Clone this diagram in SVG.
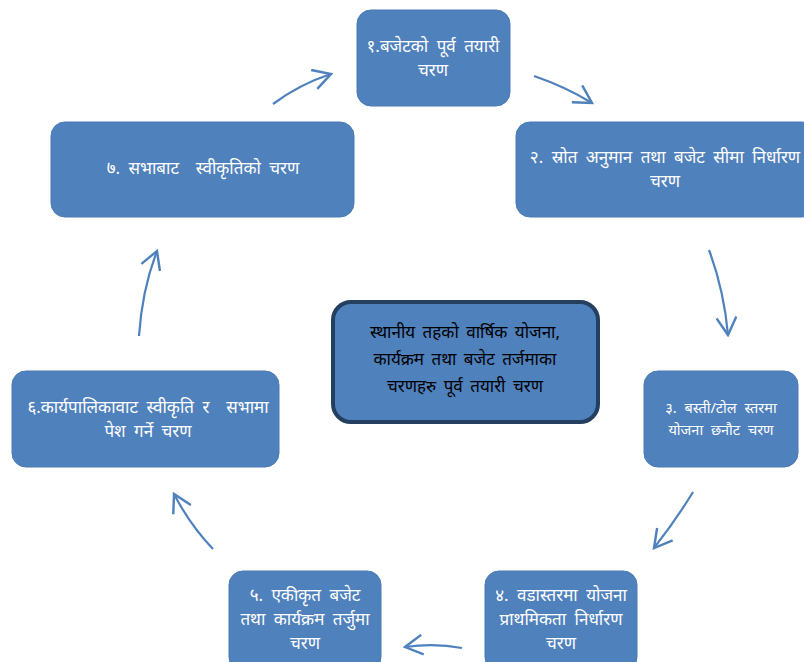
<svg xmlns="http://www.w3.org/2000/svg" width="804" height="662" viewBox="0 0 804 662">
<style>
.box{fill:#4F81BD;stroke:#4A7AB5;stroke-width:1}
.t{font-family:"Noto Sans","Noto Sans CJK SC",sans-serif;font-size:17px;word-spacing:4px;fill:#FFFFFF;text-anchor:middle}
.s{font-size:14.5px;word-spacing:4px}
.c{font-family:"Noto Sans",sans-serif;font-size:17px;word-spacing:3px;fill:#000000;text-anchor:middle}
.arr{fill:none;stroke:#4F81BD;stroke-width:2.2}
</style>
<defs>
<marker id="ah" markerUnits="userSpaceOnUse" markerWidth="22" markerHeight="22" viewBox="0 0 20 20" refX="18" refY="10" orient="auto">
<path d="M2,1 L18,10 L2,19" fill="none" stroke="#4F81BD" stroke-width="2.2"/>
</marker>
</defs>
<rect width="804" height="662" fill="#FFFFFF"/>
<g id="connectors">
<path class="arr" marker-end="url(#ah)" d="M273,104 Q300,84 331,74"/>
<path class="arr" marker-end="url(#ah)" d="M534,76 Q566,87 592,103"/>
<path class="arr" marker-end="url(#ah)" d="M709,250 Q724,290 728,335"/>
<path class="arr" marker-end="url(#ah)" d="M693,492 Q676,520 654,548"/>
<path class="arr" marker-end="url(#ah)" d="M462,648 Q435,643 405,647"/>
<path class="arr" marker-end="url(#ah)" d="M213,549 Q190,525 174,494"/>
<path class="arr" marker-end="url(#ah)" d="M139,336 Q142,290 157,251"/>
</g>
<g id="node1">
<rect class="box" x="357" y="10" width="153" height="96" rx="14"/>
<text class="t" x="433" y="52">१.बजेटको पूर्व तयारी</text>
<text class="t" x="433" y="76">चरण</text>
</g>
<g id="node2">
<rect class="box" x="516" y="122" width="300" height="95" rx="14"/>
<text class="t" x="665" y="163">२. स्रोत अनुमान तथा बजेट सीमा निर्धारण</text>
<text class="t" x="665" y="187">चरण</text>
</g>
<g id="node3">
<rect class="box" x="644" y="371" width="154" height="96" rx="14"/>
<text class="t s" x="721" y="413">३. बस्ती/टोल स्तरमा</text>
<text class="t s" x="721" y="435">योजना छनौट चरण</text>
</g>
<g id="node4">
<rect class="box" x="485" y="571" width="152" height="100" rx="14"/>
<text class="t" x="561" y="601">४. वडास्तरमा योजना</text>
<text class="t" x="561" y="625">प्राथमिकता निर्धारण</text>
<text class="t" x="561" y="649">चरण</text>
</g>
<g id="node5">
<rect class="box" x="229" y="571" width="152" height="100" rx="14"/>
<text class="t" x="305" y="601">५. एकीकृत बजेट</text>
<text class="t" x="305" y="625">तथा कार्यक्रम तर्जुमा</text>
<text class="t" x="305" y="649">चरण</text>
</g>
<g id="node6">
<rect class="box" x="12" y="371" width="267" height="96" rx="14"/>
<text class="t" x="148" y="413" xml:space="preserve">६.कार्यपालिकावाट स्वीकृति र  सभामा</text>
<text class="t" x="148" y="437">पेश गर्ने चरण</text>
</g>
<g id="node7">
<rect class="box" x="51" y="122" width="303" height="95" rx="14"/>
<text class="t" x="203" y="174" xml:space="preserve">७. सभाबाट  स्वीकृतिको चरण</text>
</g>
<g id="center">
<rect x="333" y="302" width="265" height="120" rx="18" fill="#4F81BD" stroke="#243F60" stroke-width="4"/>
<text class="c" x="465" y="338">स्थानीय तहको वार्षिक योजना,</text>
<text class="c" x="465" y="365">कार्यक्रम तथा बजेट तर्जमाका</text>
<text class="c" x="465" y="392">चरणहरु पूर्व तयारी चरण</text>
</g>
</svg>
